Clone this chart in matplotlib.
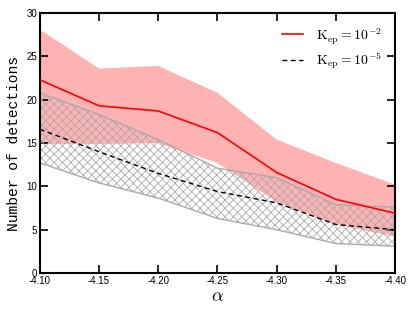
import matplotlib
matplotlib.use("Agg")
import matplotlib.pyplot as plt
import numpy as np

alpha = [-4.10, -4.15, -4.20, -4.25, -4.30, -4.35, -4.40]
red_mid = [22.3, 19.3, 18.7, 16.2, 11.6, 8.5, 6.9]
red_hi = [28.1, 23.6, 23.9, 20.8, 15.4, 12.7, 10.2]
red_lo = [14.9, 14.9, 15.0, 12.7, 8.2, 5.6, 4.2]
blk_mid = [16.6, 14.0, 11.5, 9.4, 8.1, 5.6, 5.0]
blk_hi = [20.8, 18.3, 15.4, 12.1, 11.0, 7.9, 7.6]
blk_lo = [12.7, 10.4, 8.65, 6.3, 5.0, 3.4, 3.1]
xticks = [-4.10, -4.15, -4.20, -4.25, -4.30, -4.35, -4.40]
xticklabels = ["-4.10", "-4.15", "-4.20", "-4.25", "-4.30", "-4.35", "-4.40"]
yticks = [0, 5, 10, 15, 20, 25, 30]

plt.rcParams['hatch.color'] = '#9a9a9a'
plt.rcParams['hatch.linewidth'] = 0.6
plt.rcParams['font.family'] = ['Liberation Sans', 'DejaVu Sans']
plt.rcParams['mathtext.fontset'] = 'cm'

fig = plt.figure(figsize=(4.15, 3.12), dpi=100)
ax = fig.add_axes([0.096, 0.125, 0.856, 0.833])

ax.fill_between(alpha, red_lo, red_hi, facecolor='red', alpha=0.3,
                edgecolor='none', zorder=1)
ax.fill_between(alpha, blk_lo, blk_hi, facecolor='none', edgecolor='#aaaaaa',
                hatch='xxxx', linewidth=1.0, zorder=2)
ax.plot(alpha, red_mid, color='red', lw=1.2, zorder=3,
        label=r'$\mathrm{K_{ep}}=10^{-2}$')
ax.plot(alpha, blk_mid, color='black', lw=1.0, ls=(0, (3.5, 2.5)), zorder=3,
        label=r'$\mathrm{K_{ep}}=10^{-5}$')

ax.set_xlim(-4.10, -4.40)
ax.set_ylim(0, 30)
ax.set_xticks(xticks)
ax.set_xticklabels(xticklabels)
ax.set_yticks(yticks)
ax.tick_params(direction='in', top=True, right=True, length=6, width=1.2,
               labelsize=7, pad=2)
for s in ax.spines.values():
    s.set_linewidth(1.5)

ax.set_xlabel(r'$\alpha$', fontsize=13, labelpad=2)
ax.set_ylabel('Number of detections', fontsize=10.5, family=['Liberation Mono'],
              labelpad=4)

leg = ax.legend(loc='upper right', frameon=False, fontsize=10, handlelength=1.5,
                handletextpad=1.0, borderaxespad=0.5, labelspacing=0.35)

fig.savefig('out.png', dpi=100)
